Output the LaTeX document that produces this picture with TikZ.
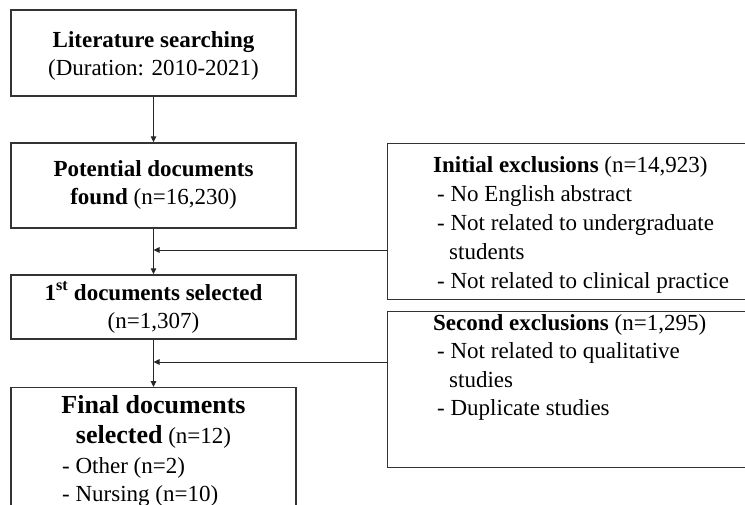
\documentclass[tikz,border=0pt]{standalone}
\usepackage{fontspec}
\setmainfont{Liberation Serif}
\usetikzlibrary{arrows.meta}
\begin{document}
\begin{tikzpicture}[x=1pt,y=-1pt,
  box/.style={draw=black!80, line width=1.4pt, rectangle, inner sep=0pt},
  txt/.style={inner sep=0pt, font=\fontsize{23}{28}\selectfont},
  big/.style={inner sep=0pt, font=\fontsize{26}{30}\selectfont\bfseries},
  arr/.style={draw=black!85, line width=1pt, -{Triangle[length=6pt,width=5.5pt]}}]
\useasboundingbox (0,0) rectangle (745,504);
\clip (0,0) rectangle (745,504);
% left column boxes
\node[box, minimum width=285pt, minimum height=86pt] (b1) at (153.5,53) {};
\node[box, minimum width=285pt, minimum height=85pt] (b2) at (153.5,185.5) {};
\node[box, minimum width=285pt, minimum height=64pt] (b3) at (153.5,307) {};
\node[box, minimum width=285pt, minimum height=150pt, anchor=north] (b4) at (153.5,387) {};
% right boxes
\node[box, minimum width=380pt, minimum height=156pt, anchor=north west] (r1) at (387,143) {};
\node[box, minimum width=380pt, minimum height=156pt, anchor=north west] (r2) at (387,311) {};
% texts box 1
\node[txt, anchor=base] (t1a) at (153.5,47) {\bfseries Literature searching};
\node[txt, anchor=base] (t1b) at (153.5,75) {(Duration: 2010-2021)};
% box 2
\node[txt, anchor=base] (t2a) at (153.5,176) {\bfseries Potential documents};
\node[txt, anchor=base] (t2b) at (153.5,204) {\textbf{found} (n=16,230)};
% box 3
\node[txt, anchor=base] (t3a) at (153.5,300) {\bfseries 1\textsuperscript{st} documents selected};
\node[txt, anchor=base] (t3b) at (153.5,328) {(n=1,307)};
% box 4
\node[big, anchor=base] (t4a) at (153.5,413) {Final documents};
\node[txt, anchor=base] (t4b) at (153.5,443) {{\fontsize{26}{30}\selectfont\bfseries selected} (n=12)};
\node[txt, anchor=base west] (t4c) at (62,473) {- Other (n=2)};
\node[txt, anchor=base west] (t4d) at (62,501) {- Nursing (n=10)};
% right box 1
\node[txt, anchor=base west] (r1a) at (433,172) {\textbf{Initial exclusions} (n=14,923)};
\node[txt, anchor=base west] (r1b) at (437,201) {- No English abstract};
\node[txt, anchor=base west] (r1c) at (437,230) {- Not related to undergraduate};
\node[txt, anchor=base west] (r1d) at (449,259) {students};
\node[txt, anchor=base west] (r1e) at (437,288) {- Not related to clinical practice};
% right box 2
\node[txt, anchor=base west] (r2a) at (433,330) {\textbf{Second exclusions} (n=1,295)};
\node[txt, anchor=base west] (r2b) at (437,358.5) {- Not related to qualitative};
\node[txt, anchor=base west] (r2c) at (449,387) {studies};
\node[txt, anchor=base west] (r2d) at (437,415.5) {- Duplicate studies};
% connectors
\coordinate (j1) at (153.5,250);
\coordinate (j2) at (153.5,362);
\draw[arr] (b1) -- (b2);
\draw[arr] (b2) -- (b3);
\draw[arr] (b3) -- (b4);
\draw[arr] (r1.west |- j1) -- (j1);
\draw[arr] (r2.west |- j2) -- (j2);
\end{tikzpicture}
\end{document}
